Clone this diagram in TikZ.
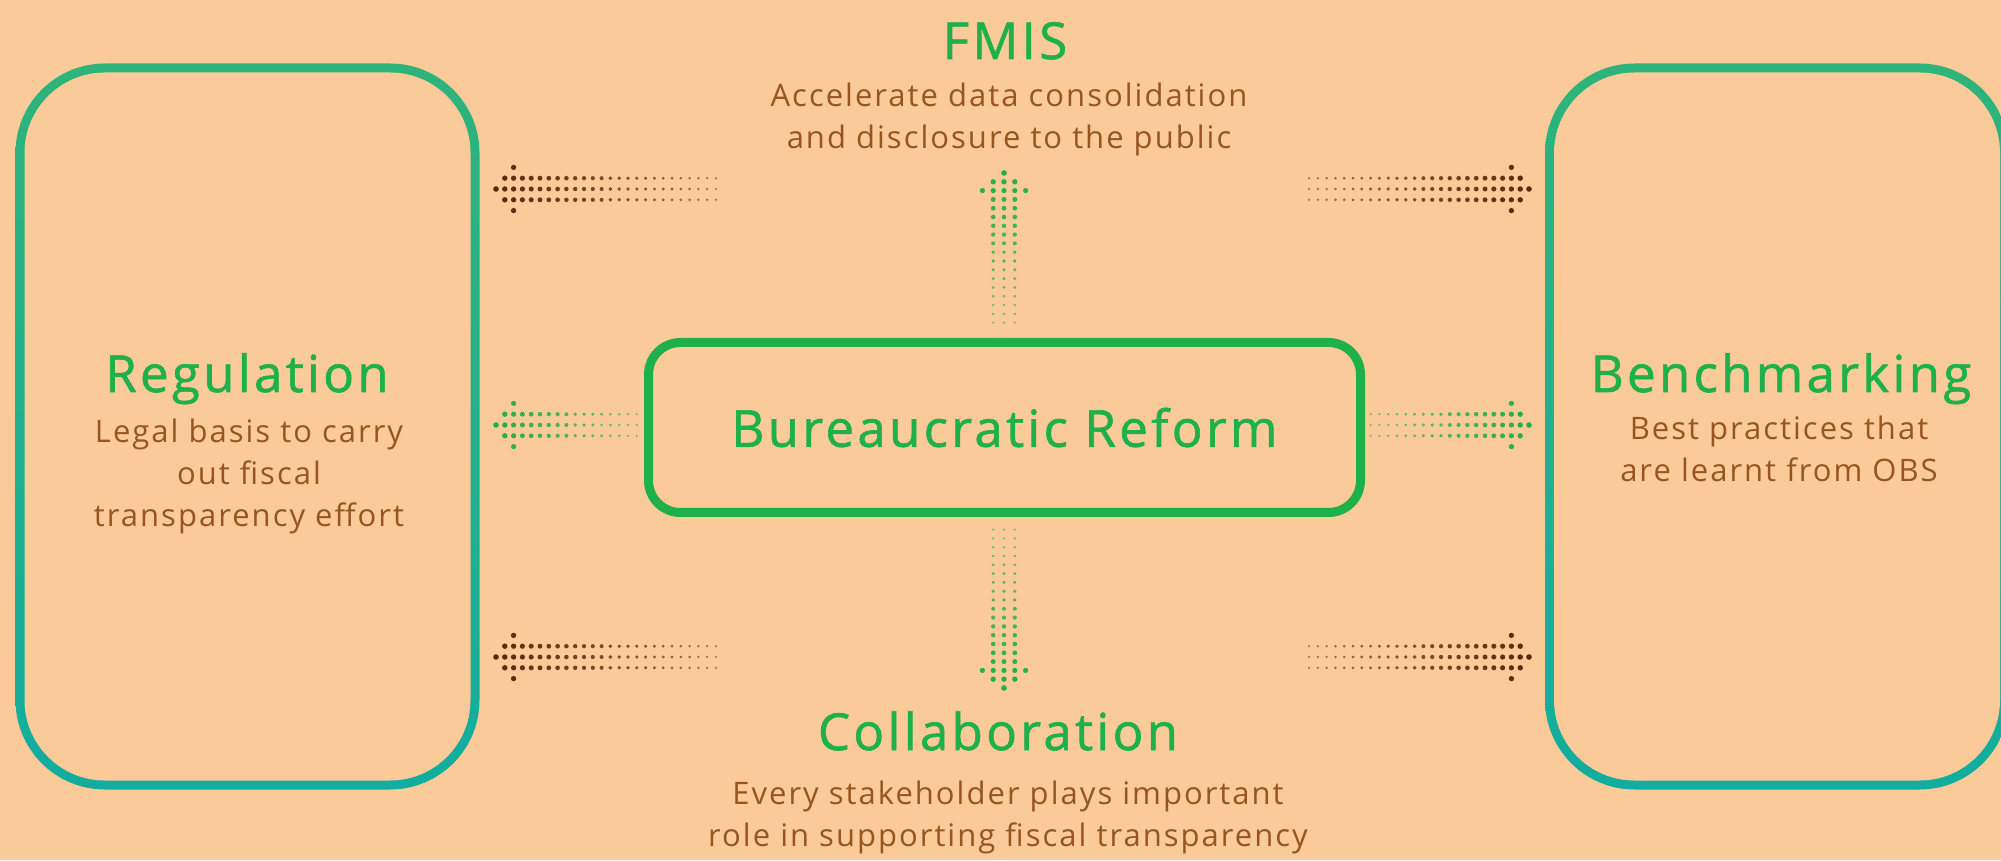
\documentclass[tikz,border=0pt]{standalone}
\usepackage{fontspec}
\setmainfont{Open Sans}[LetterSpace=6.5]
\definecolor{peach}{RGB}{251,202,153}
\definecolor{leaf}{RGB}{30,176,74}
\definecolor{seatop}{RGB}{46,180,122}
\definecolor{seabot}{RGB}{18,173,159}
\definecolor{rust}{RGB}{150,86,30}
\definecolor{cocoa}{RGB}{88,42,10}

% dotted arrow: tip, angle, columns, colour
\newcommand{\dotarrow}[4]{%
  \begin{scope}[shift={(#1)}, rotate=#2]
    \foreach \i in {0,...,#3} {
      \pgfmathsetmacro{\rad}{2.8-1.6*\i/#3}
      \pgfmathsetmacro{\op}{1-0.45*\i/#3}
      \fill[#4, opacity=\op] (-8.8*\i,0) circle (\rad);
      \ifnum\i>0
        \fill[#4, opacity=\op] (-8.8*\i,10.8) circle (\rad);
        \fill[#4, opacity=\op] (-8.8*\i,-10.8) circle (\rad);
      \fi
      \ifnum\i=2
        \fill[#4, opacity=\op] (-8.8*\i,21.6) circle (\rad);
        \fill[#4, opacity=\op] (-8.8*\i,-21.6) circle (\rad);
      \fi
    }
  \end{scope}
}

\begin{document}
\begin{tikzpicture}[x=1pt, y=1pt,
  frame/.style={top color=seatop, bottom color=seabot, rounded corners=89.5pt,
    minimum width=464pt, minimum height=726pt, inner sep=0pt},
  hole/.style={fill=peach, rounded corners=80.5pt,
    minimum width=446pt, minimum height=708pt, inner sep=0pt},
  corebox/.style={draw=leaf, line width=9pt, rounded corners=32pt,
    minimum width=712pt, minimum height=170pt, inner sep=0pt},
  title/.style={text=leaf, font=\fontsize{51}{60}\selectfont\addfontfeature{FakeBold=1.2}, inner sep=0pt},
  body/.style={text=rust, align=center, font=\fontsize{31}{42}\selectfont, inner sep=0pt}]
  \fill[peach] (0,0) rectangle (2001,860);
  \useasboundingbox (0,0) rectangle (2001,860);

  % side frames
  \node (regframe) [frame] at (247.5,433.5) {};
  \node (reg) [hole] at (regframe.center) {};
  \node (benchframe) [frame] at (1777,433.5) {};
  \node (bench) [hole] at (benchframe.center) {};
  \node (core) [corebox] at (1004.5,432.5) {};

  % texts (base = last line)
  \node (fmis) [title, anchor=base] at (1005,801) {FMIS};
  \node (fmistxt) [body, anchor=base] at (1009,711) {Accelerate data consolidation\\and disclosure to the public};
  \node (regtitle) [title, anchor=base] at (247,468) {Regulation};
  \node (regtxt) [body, anchor=base] at (249,334) {Legal basis to carry\\out fiscal\\transparency effort};
  \node (benchtitle) [title, anchor=base] at (1781,468) {Benchmarking};
  \node (benchtxt) [body, anchor=base] at (1779,378) {Best practices that\\are learnt from OBS};
  \node (coretitle) [title] at (core.center) {Bureaucratic Reform};
  \node (collab) [title, anchor=base] at (998,110) {Collaboration};
  \node (collabtxt) [body, anchor=base] at (1008,14) {Every stakeholder plays important\\role in supporting fiscal transparency};

  % arrows
  \coordinate (tl) at (496,671);
  \coordinate (ml) at (496,435);
  \coordinate (bl) at (496,203);
  \coordinate (tr) at (1529,671);
  \coordinate (mr) at (1529,435);
  \coordinate (br) at (1529,203);
  \coordinate (up) at (1004,687);
  \coordinate (dn) at (1004,172);
  \dotarrow{tl}{180}{25}{cocoa}
  \dotarrow{ml}{180}{16}{leaf}
  \dotarrow{bl}{180}{25}{cocoa}
  \dotarrow{tr}{0}{25}{cocoa}
  \dotarrow{mr}{0}{18}{leaf}
  \dotarrow{br}{0}{25}{cocoa}
  \dotarrow{up}{90}{17}{leaf}
  \dotarrow{dn}{-90}{18}{leaf}
\end{tikzpicture}
\end{document}
